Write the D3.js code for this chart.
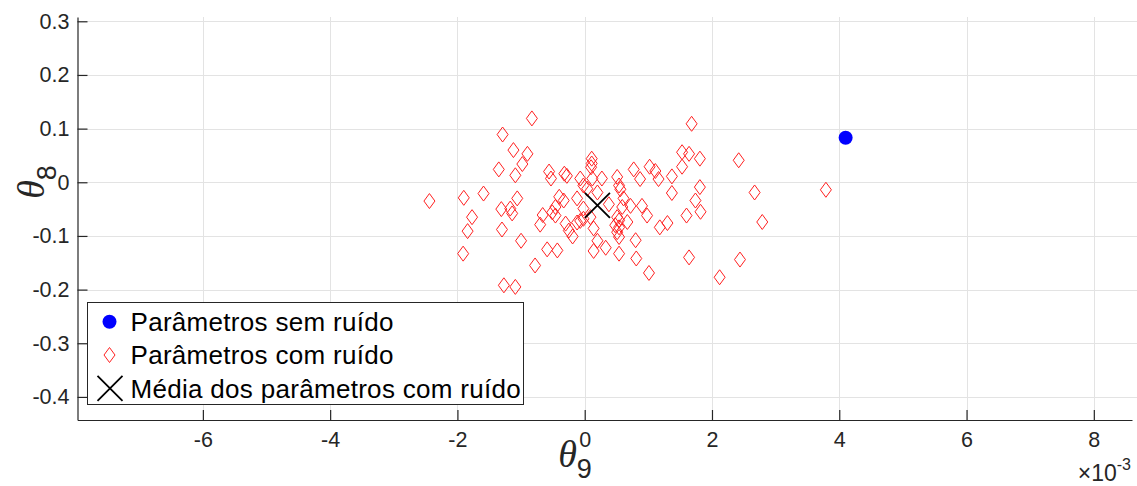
<!DOCTYPE html>
<html>
<head>
<meta charset="utf-8">
<script src="https://cdn.jsdelivr.net/npm/d3@7"></script>
<style>
  html, body { margin: 0; padding: 0; background: #fff; }
  svg { display: block; font-family: "Liberation Sans", Arial, Helvetica, sans-serif; }
</style>
</head>
<body>
<div id="chart"></div>
<script>
// theta9 values are in units of 1e-3 (axis shows the x10^-3 multiplier)
const noisyTheta9 = [
  -2.44, -1.90, -1.59, -1.77, -1.84, -1.91, -1.29, -0.83, -1.12, -0.90,
  -0.98, -1.35, -1.09, -1.06, -1.31, -1.17, -1.14, -1.30, -1.00, -0.78,
  -1.27, -1.09, -0.56, -0.53, -0.32, -0.28, 0.11, 0.11, 0.10, -0.07,
  -0.02, 0.04, 0.27, -0.40, -0.33, -0.46, -0.51, -0.46, -0.66, -0.70,
  -0.12, -0.02, -0.02, -0.07, -0.12, -0.30, -0.25, -0.19, 0.09, -0.59,
  -0.43, 0.20, 0.14, 0.33, 0.14, 0.20, 0.38, 0.51, 0.54, 0.56,
  0.77, 0.87, 1.02, 1.11, 1.16, 0.61, 0.59, 0.72, 0.90, 0.98,
  0.51, 0.54, 0.48, 0.54, 0.51, 0.67, 0.54, 0.80, 0.54, 0.81,
  1.01, 1.18, 1.30, 1.37, 1.37, 1.68, 1.53, 1.64, 1.81, 1.53,
  1.81, 1.74, 1.82, 1.60, 1.64, 2.42, 2.67, 2.79, 2.44, 2.12,
  3.79, 0.12
];
const noisyTheta8 = [
  -0.035, -0.029, -0.021, -0.065, -0.091, -0.133, 0.089, 0.119, 0.060, 0.053,
  0.034, 0.024, 0.013, -0.030, -0.050, -0.049, -0.058, -0.088, -0.109, -0.155,
  -0.192, -0.195, 0.020, 0.007, 0.016, 0.012, 0.044, 0.035, 0.028, 0.007,
  -0.006, -0.012, 0.007, -0.027, -0.034, -0.046, -0.056, -0.062, -0.061, -0.079,
  -0.030, -0.049, -0.068, -0.072, -0.075, -0.077, -0.090, -0.101, -0.065, -0.125,
  -0.127, -0.109, -0.128, -0.122, -0.086, -0.019, -0.041, 0.010, -0.006, -0.013,
  0.024, 0.006, 0.029, 0.021, 0.006, -0.030, -0.046, -0.044, -0.044, -0.062,
  -0.065, -0.071, -0.080, -0.084, -0.093, -0.074, -0.102, -0.108, -0.133, -0.142,
  -0.169, -0.084, -0.076, 0.011, -0.020, 0.109, 0.056, 0.053, 0.044, 0.029,
  -0.009, -0.034, -0.055, -0.062, -0.140, 0.041, -0.019, -0.074, -0.144, -0.177,
  -0.014, 0.007
];
const cleanTheta9 = [4.10];
const cleanTheta8 = [0.083];
const meanTheta9 = [0.20];
const meanTheta8 = [-0.043];

const xTicks = [-6, -4, -2, 0, 2, 4, 6, 8];
const yTicks = [-0.4, -0.3, -0.2, -0.1, 0, 0.1, 0.2, 0.3];
const legendLabels = [
  'Parâmetros sem ruído',
  'Parâmetros com ruído',
  'Média dos parâmetros com ruído'
];

const W = 1137, H = 486;
const axisColor = '#262626';
const gridColor = '#e3e3e3';

const svg = d3.select('#chart').append('svg')
  .attr('width', W)
  .attr('height', H);

const x = d3.scaleLinear().domain([-7.97, 8.6]).range([77.5, 1132]);
const y = d3.scaleLinear().domain([-0.443, 0.308]).range([420, 17]);

// grid
const grid = svg.append('g');
grid.selectAll('line.gx').data(xTicks).enter().append('line')
  .attr('x1', d => Math.round(x(d)) + 0.5).attr('x2', d => Math.round(x(d)) + 0.5)
  .attr('y1', y.range()[1]).attr('y2', y.range()[0])
  .attr('stroke', gridColor).attr('stroke-width', 1);
grid.selectAll('line.gy').data(yTicks).enter().append('line')
  .attr('y1', d => Math.round(y(d)) + 0.5).attr('y2', d => Math.round(y(d)) + 0.5)
  .attr('x1', x.range()[0]).attr('x2', W)
  .attr('stroke', gridColor).attr('stroke-width', 1);

// diamond marker
const diamond = {
  draw(ctx) {
    ctx.moveTo(0, -7.5);
    ctx.lineTo(5.5, 0);
    ctx.lineTo(0, 7.5);
    ctx.lineTo(-5.5, 0);
    ctx.closePath();
  }
};
const diamondPath = d3.symbol().type(diamond)();

const noisy = noisyTheta9.map((d, i) => [d, noisyTheta8[i]]);
svg.append('g').selectAll('path').data(noisy).enter().append('path')
  .attr('d', diamondPath)
  .attr('transform', d => `translate(${x(d[0])},${y(d[1])})`)
  .attr('fill', 'none')
  .attr('stroke', '#ff2020')
  .attr('stroke-width', 1);

// clean parameters
const clean = cleanTheta9.map((d, i) => [d, cleanTheta8[i]]);
svg.append('g').selectAll('circle').data(clean).enter().append('circle')
  .attr('cx', d => x(d[0])).attr('cy', d => y(d[1])).attr('r', 7)
  .attr('fill', '#0000ff');

// mean marker
const crossPath = s => `M${-s},${-s}L${s},${s}M${-s},${s}L${s},${-s}`;
const mean = meanTheta9.map((d, i) => [d, meanTheta8[i]]);
svg.append('g').selectAll('path').data(mean).enter().append('path')
  .attr('d', crossPath(12.5))
  .attr('transform', d => `translate(${x(d[0])},${y(d[1])})`)
  .attr('stroke', '#000').attr('stroke-width', 1.8).attr('fill', 'none');

// axes
const xAxis = svg.append('g')
  .attr('transform', `translate(0,${y.range()[0]})`)
  .call(d3.axisBottom(x).tickValues(xTicks).tickSizeInner(-10).tickSizeOuter(0).tickPadding(12)
    .tickFormat(d => String(d).replace('−', '-')));
const yAxis = svg.append('g')
  .attr('transform', `translate(${x.range()[0]},0)`)
  .call(d3.axisLeft(y).tickValues(yTicks).tickSizeInner(-10).tickSizeOuter(0).tickPadding(8)
    .tickFormat(d => String(d).replace('−', '-')));

[xAxis, yAxis].forEach(g => {
  g.select('.domain').attr('stroke', axisColor).attr('stroke-width', 1.2);
  g.selectAll('.tick line').attr('stroke', axisColor).attr('stroke-width', 1.2);
  g.selectAll('.tick text').attr('fill', axisColor)
    .style('font-size', '21.5px')
    .style('font-family', '"Liberation Sans", Arial, Helvetica, sans-serif');
});

// x10^-3 multiplier
const mult = svg.append('text')
  .attr('x', 1131).attr('y', 481)
  .attr('text-anchor', 'end')
  .attr('fill', axisColor)
  .style('font-size', '23px');
mult.append('tspan').text('×10');
mult.append('tspan').attr('dy', -11).style('font-size', '16px').text('-3');

// axis labels
const xlab = svg.append('text')
  .attr('x', 575).attr('y', 467)
  .attr('text-anchor', 'middle')
  .attr('fill', axisColor);
xlab.append('tspan')
  .style('font-family', '"Liberation Serif", "Times New Roman", serif')
  .style('font-style', 'italic').style('font-size', '38px').text('θ');
xlab.append('tspan').attr('dy', 11).style('font-size', '27px').text('9');

const ylab = svg.append('text')
  .attr('transform', 'translate(44,182) rotate(-90)')
  .attr('text-anchor', 'middle')
  .attr('fill', axisColor);
ylab.append('tspan')
  .style('font-family', '"Liberation Serif", "Times New Roman", serif')
  .style('font-style', 'italic').style('font-size', '38px').text('θ');
ylab.append('tspan').attr('dy', 12).style('font-size', '27px').text('8');

// legend
const legend = svg.append('g');
legend.append('rect')
  .attr('x', 87.5).attr('y', 302.5).attr('width', 436).attr('height', 102)
  .attr('fill', '#fff').attr('stroke', axisColor).attr('stroke-width', 1);
const rowY = [321.7, 355, 388.3];
legend.append('circle').attr('cx', 109.5).attr('cy', rowY[0]).attr('r', 7).attr('fill', '#0000ff');
legend.append('path').attr('d', diamondPath)
  .attr('transform', `translate(109.5,${rowY[1]})`)
  .attr('fill', 'none').attr('stroke', '#ff2020').attr('stroke-width', 1);
legend.append('path').attr('d', crossPath(12.5))
  .attr('transform', `translate(110,${rowY[2]})`)
  .attr('stroke', '#000').attr('stroke-width', 1.8);
legend.selectAll('text.lbl').data(legendLabels).enter().append('text')
  .attr('x', 130.5)
  .attr('y', (d, i) => rowY[i])
  .attr('dy', '0.36em')
  .attr('fill', '#000')
  .style('font-size', '26px')
  .style('letter-spacing', '0.3px')
  .text(d => d);
</script>
</body>
</html>
